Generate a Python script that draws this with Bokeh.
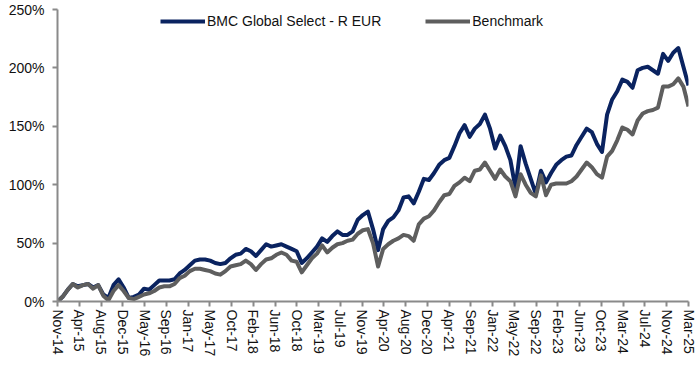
from bokeh.plotting import figure
from bokeh.models import ColumnDataSource, FixedTicker, Legend, LegendItem, PrintfTickFormatter, Range1d
from bokeh.embed import file_html
from bokeh.resources import INLINE

# Monthly cumulative performance (%), Nov-14 .. Mar-25
fund = [0, 4, 10, 15, 13, 14, 15, 12, 14, 6, 3, 14, 19, 12, 3, 4, 6, 11, 10, 14,
        18, 18, 18, 19, 24, 27, 31, 35, 36, 36, 35, 33, 32, 33, 37, 40, 41, 45, 43, 39,
        44, 49, 47, 48, 49, 47, 45, 43, 33, 37, 42, 47, 54, 51, 56, 60, 57, 57, 60, 70,
        74, 77, 62, 44, 62, 69, 72, 78, 89, 90, 84, 94, 105, 104, 110, 117, 121, 123, 133, 144,
        151, 141, 148, 152, 160, 148, 131, 142, 133, 121, 97, 133, 118, 105, 92, 112, 102, 110, 117, 121,
        124, 125, 134, 141, 148, 145, 135, 128, 160, 173, 180, 190, 188, 183, 198, 200, 201, 198, 195, 212,
        206, 213, 217, 201, 185]
bench = [0, 4, 10, 15, 12, 14, 15, 11, 14, 5, 1, 9, 14, 9, 3, 2, 4, 6, 7, 9,
         12, 13, 13, 15, 20, 22, 26, 28, 28, 27, 26, 24, 23, 26, 30, 31, 32, 35, 32, 27,
         32, 36, 37, 40, 42, 40, 35, 34, 25, 31, 37, 41, 48, 42, 46, 49, 50, 52, 53, 58,
         61, 62, 50, 30, 45, 49, 52, 54, 57, 56, 52, 66, 71, 73, 78, 85, 91, 92, 99, 102,
         106, 103, 112, 113, 119, 112, 105, 113, 107, 103, 90, 109, 100, 93, 90, 108, 91, 100, 101, 101,
         101, 103, 107, 113, 119, 115, 109, 106, 124, 129, 138, 149, 147, 143, 155, 161, 163, 164, 166, 184,
         184, 186, 191, 184, 167]
tick_labels = ["Nov-14", "Apr-15", "Aug-15", "Dec-15", "May-16", "Sep-16", "Jan-17", "May-17",
               "Oct-17", "Feb-18", "Jun-18", "Oct-18", "Mar-19", "Jul-19", "Nov-19", "Apr-20",
               "Aug-20", "Dec-20", "Apr-21", "Sep-21", "Jan-22", "May-22", "Sep-22", "Feb-23",
               "Jun-23", "Oct-23", "Mar-24", "Jul-24", "Nov-24", "Mar-25"]
y_ticks = [0, 50, 100, 150, 200, 250]
series_names = ["BMC Global Select - R EUR", "Benchmark"]

n = len(fund)
months = list(range(n))
src = ColumnDataSource(dict(m=months, fund=fund, bench=bench))

tick_pos = [k * (n - 1) / (len(tick_labels) - 1) for k in range(len(tick_labels))]

FONT = "Liberation Sans"
p = figure(width=700, height=367, output_backend="svg", toolbar_location=None,
           x_range=Range1d(0, n - 1), y_range=Range1d(0, 250),
           min_border_left=57, min_border_right=12, min_border_top=9, min_border_bottom=66)
p.outline_line_color = None
p.xgrid.visible = False
p.ygrid.visible = False
p.background_fill_color = "white"
p.border_fill_color = "white"

r1 = p.line("m", "fund", source=src, line_color="#0a2360", line_width=4, line_join="round")
r2 = p.line("m", "bench", source=src, line_color="#5e5e5e", line_width=4, line_join="round")

for ax in (p.xaxis[0], p.yaxis[0]):
    ax.axis_line_color = "#8a8a8a"
    ax.axis_line_width = 2
    ax.major_tick_line_color = "#8a8a8a"
    ax.major_tick_line_width = 2
    ax.major_tick_out = 5
    ax.major_tick_in = 0
    ax.minor_tick_line_color = None
    ax.major_label_text_font = FONT
    ax.major_label_text_font_size = "14px"
    ax.major_label_text_color = "#111111"

p.xaxis[0].ticker = FixedTicker(ticks=tick_pos)
p.xaxis[0].major_label_overrides = {t: l for t, l in zip(tick_pos, tick_labels)}
p.xaxis[0].major_label_orientation = "vertical"
p.xaxis[0].major_label_standoff = 3

p.yaxis[0].ticker = FixedTicker(ticks=y_ticks)
p.yaxis[0].formatter = PrintfTickFormatter(format="%d%%")
p.yaxis[0].major_label_standoff = 8

legend = Legend(items=[LegendItem(label=series_names[0], renderers=[r1]),
                       LegendItem(label=series_names[1], renderers=[r2])],
                orientation="horizontal", location=(103, 272),
                glyph_width=45, glyph_height=16, label_standoff=2, spacing=44,
                padding=0, margin=0, border_line_color=None, background_fill_alpha=0,
                label_text_font=FONT, label_text_font_size="14px", label_text_color="#111111")
p.add_layout(legend, "center")

open("out.html", "w").write(file_html(p, INLINE))
